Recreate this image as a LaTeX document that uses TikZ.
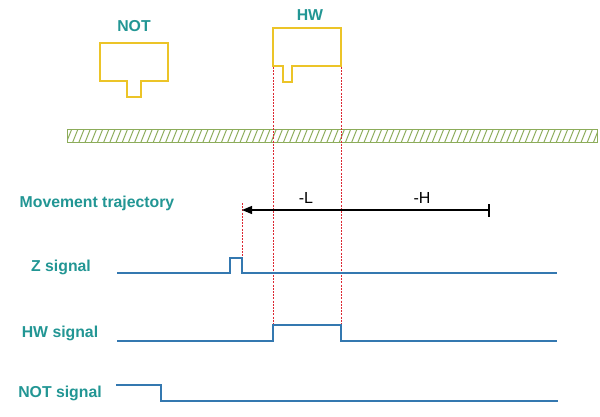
\documentclass[tikz,border=0pt]{standalone}
\usepackage{fontspec}
\setmainfont{Liberation Sans}
\usetikzlibrary{arrows.meta}
\definecolor{tealtxt}{RGB}{34,150,148}
\definecolor{sigblue}{RGB}{52,120,176}
\definecolor{boxyellow}{RGB}{236,196,40}
\definecolor{hatchgreen}{RGB}{140,172,90}
\definecolor{dotred}{RGB}{220,40,50}
\tikzset{
  lbl/.style={font=\fontsize{15.8}{18}\selectfont\bfseries, text=tealtxt, inner sep=0pt},
  dimlbl/.style={font=\fontsize{16}{18}\selectfont, text=black, inner sep=0pt},
  sensor/.style={draw=boxyellow, line width=1.8pt, line join=miter},
  sig/.style={draw=sigblue, line width=1.4pt},
  guide/.style={draw=dotred, line width=1.1pt, dash pattern=on 2pt off 1.2pt},
  traj/.style={draw=black, line width=1.2pt},
}
\begin{document}
\begin{tikzpicture}[x=1pt,y=-1pt]
\useasboundingbox (0,0) rectangle (600,416);
\fill[white] (0,0) rectangle (600,416);

% sensors
\path[sensor] (100,43) -- (168,43) -- (168,81) -- (141,81) -- (141,97) -- (127,97) -- (127,81) -- (100,81) -- cycle;
\path[sensor] (273,28) -- (341,28) -- (341,66) -- (292,66) -- (292,82) -- (283,82) -- (283,66) -- (273,66) -- cycle;
\node[lbl] (notlbl) at (134,26) {NOT};
\node[lbl] (hwlbl) at (310,15) {HW};

% hatched bar
\begin{scope}
\clip (67,129) rectangle (597,142);
\foreach \i in {0,...,90} {
  \draw[hatchgreen, line width=1pt] (60+\i*6.2,143) -- (66+\i*6.2,128);
}
\end{scope}
\draw[hatchgreen, line width=1pt] (67,129) rectangle (597,142);

% guide lines
\coordinate (g1t) at (273.5,67);
\coordinate (g1b) at (273.5,325);
\coordinate (g2t) at (341.5,67);
\coordinate (g2b) at (341.5,325);
\coordinate (g3t) at (242.5,203);
\coordinate (g3b) at (242.5,258);
\draw[guide] (g1t) -- (g1b);
\draw[guide] (g2t) -- (g2b);
\draw[guide] (g3t) -- (g3b);

% trajectory
\node[lbl] (mt) at (97,203) {Movement trajectory};
\coordinate (tstart) at (489,210);
\coordinate (tend) at (242,210);
\draw[traj, -{Triangle[length=10pt,width=8pt]}] (tstart) -- (tend);
\draw[traj] (489,204) -- (489,217);
\node[dimlbl] (lL) at (306,198) {-L};
\node[dimlbl] (lH) at (422,198) {-H};

% signals
\node[lbl] (zs) at (61,267) {Z signal};
\node[lbl] (hws) at (60,333) {HW signal};
\node[lbl] (nots) at (60,393) {NOT signal};
\draw[sig] (117,273) -- (230,273) -- (230,258) -- (242,258) -- (242,273) -- (557,273);
\draw[sig] (117,341) -- (273,341) -- (273,325) -- (341,325) -- (341,341) -- (557,341);
\draw[sig] (116,385) -- (161,385) -- (161,401) -- (558,401);
\end{tikzpicture}
\end{document}
